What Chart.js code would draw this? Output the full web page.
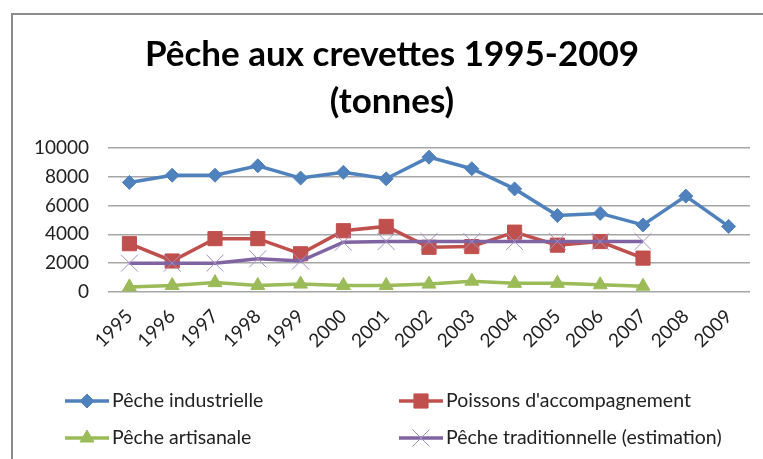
<!DOCTYPE html>
<html>
<head>
<meta charset="utf-8">
<script src="https://cdn.jsdelivr.net/npm/chart.js@4/dist/chart.umd.min.js"></script>
<style>
  html, body { margin: 0; padding: 0; background: #fff; }
  #wrap { width: 763px; height: 459px; position: relative; }
</style>
</head>
<body>
<div id="wrap"><canvas id="shrimpChart"></canvas></div>
<script>
// Data (tonnes)
const years = ["1995","1996","1997","1998","1999","2000","2001","2002","2003","2004","2005","2006","2007","2008","2009"];
const industrielle = [7600, 8100, 8100, 8750, 7900, 8300, 7850, 9350, 8550, 7150, 5300, 5450, 4650, 6650, 4550];
const accompagnement = [3350, 2150, 3700, 3700, 2650, 4250, 4550, 3100, 3150, 4150, 3250, 3500, 2350, null, null];
const artisanale = [350, 450, 650, 450, 550, 450, 450, 550, 750, 600, 600, 500, 400, null, null];
const traditionnelle = [2000, 2000, 2000, 2300, 2150, 3450, 3500, 3500, 3500, 3500, 3500, 3500, 3500, null, null];

const seriesNames = ["Pêche industrielle", "Poissons d'accompagnement", "Pêche artisanale", "Pêche traditionnelle (estimation)"];
const seriesColors = ["#4F81BD", "#C0504D", "#9BBB59", "#8064A2"];

const FONT = "Lato, 'Open Sans', sans-serif";

// frame like the Excel chart border (left and top only visible)
const framePlugin = {
    id: 'frame',
    beforeDraw(chart) {
        const ctx = chart.ctx;
        ctx.save();
        ctx.fillStyle = "#fff";
        ctx.fillRect(0, 0, chart.width, chart.height);
        ctx.strokeStyle = "#8c8c8c";
        ctx.lineWidth = 2;
        ctx.beginPath();
        ctx.moveTo(12, chart.height);
        ctx.lineTo(12, 14);
        ctx.lineTo(chart.width, 14);
        ctx.stroke();
        ctx.restore();
    }
};

// two-column legend under the axis
const gridLegend = {
    id: 'gridLegend',
    afterDraw(chart) {
        const ctx = chart.ctx;
        const cols = [65, 399];
        const rows = [401, 438];
        ctx.save();
        chart.data.datasets.forEach((ds, i) => {
            const x = cols[i % 2];
            const y = rows[Math.floor(i / 2)];
            ctx.strokeStyle = ds.borderColor;
            ctx.lineWidth = 3.5;
            ctx.beginPath();
            ctx.moveTo(x, y);
            ctx.lineTo(x + 44, y);
            ctx.stroke();
            ctx.fillStyle = ds.pointBackgroundColor;
            ctx.strokeStyle = ds.pointBorderColor;
            ctx.lineWidth = ds.pointBorderWidth;
            Chart.helpers.drawPoint(ctx, {
                pointStyle: ds.pointStyle,
                radius: ds.pointRadius,
                rotation: 0,
                borderWidth: ds.pointBorderWidth
            }, x + 22, y);
            ctx.fillStyle = "#222";
            ctx.font = "19.5px " + FONT;
            ctx.textBaseline = "middle";
            ctx.textAlign = "left";
            ctx.fillText(ds.label, x + 47, y);
        });
        ctx.restore();
    }
};

function makeSeries(i, values, style, radius, order) {
    return {
        label: seriesNames[i],
        data: values,
        borderColor: seriesColors[i],
        backgroundColor: seriesColors[i],
        borderWidth: 3.5,
        pointStyle: style,
        pointRadius: radius,
        pointHoverRadius: radius,
        pointBackgroundColor: seriesColors[i],
        pointBorderColor: i === 3 ? "#a48fc6" : seriesColors[i],
        pointBorderWidth: 1,
        tension: 0,
        spanGaps: false,
        order: order
    };
}

new Chart(document.getElementById("shrimpChart"), {
    type: 'line',
    data: {
        labels: years,
        datasets: [
            makeSeries(0, industrielle, 'rectRot', 7, 4),
            makeSeries(1, accompagnement, 'rect', 10, 3),
            makeSeries(2, artisanale, 'triangle', 8, 2),
            makeSeries(3, traditionnelle, 'crossRot', 12, 1)
        ]
    },
    options: {
        responsive: true,
        maintainAspectRatio: false,
        animation: false,
        layout: { padding: { left: 32, right: 11, top: 0, bottom: 107 } },
        plugins: {
            legend: { display: false },
            tooltip: { enabled: false },
            title: {
                display: true,
                text: ["Pêche aux crevettes 1995-2009", "(tonnes)"],
                color: "#000",
                font: { family: FONT, size: 35, weight: 'bold', lineHeight: 1.34 },
                padding: { top: 31, bottom: 23 }
            }
        },
        scales: {
            x: {
                offset: true,
                grid: { display: false },
                border: { display: false },
                ticks: {
                    minRotation: 45,
                    maxRotation: 45,
                    padding: 5,
                    color: "#222",
                    font: { family: FONT, size: 19 }
                },
                afterFit(scale) { scale.height = 60; }
            },
            y: {
                min: 0,
                max: 10000,
                border: { display: false },
                grid: { color: "#a6a6a6", lineWidth: 1.5, drawTicks: false },
                ticks: {
                    stepSize: 2000,
                    padding: 19,
                    color: "#222",
                    font: { family: FONT, size: 19 },
                    callback: (v) => String(v)
                },
                afterFit(scale) { scale.width = 76; }
            }
        }
    },
    plugins: [framePlugin, gridLegend]
});
</script>
</body>
</html>
